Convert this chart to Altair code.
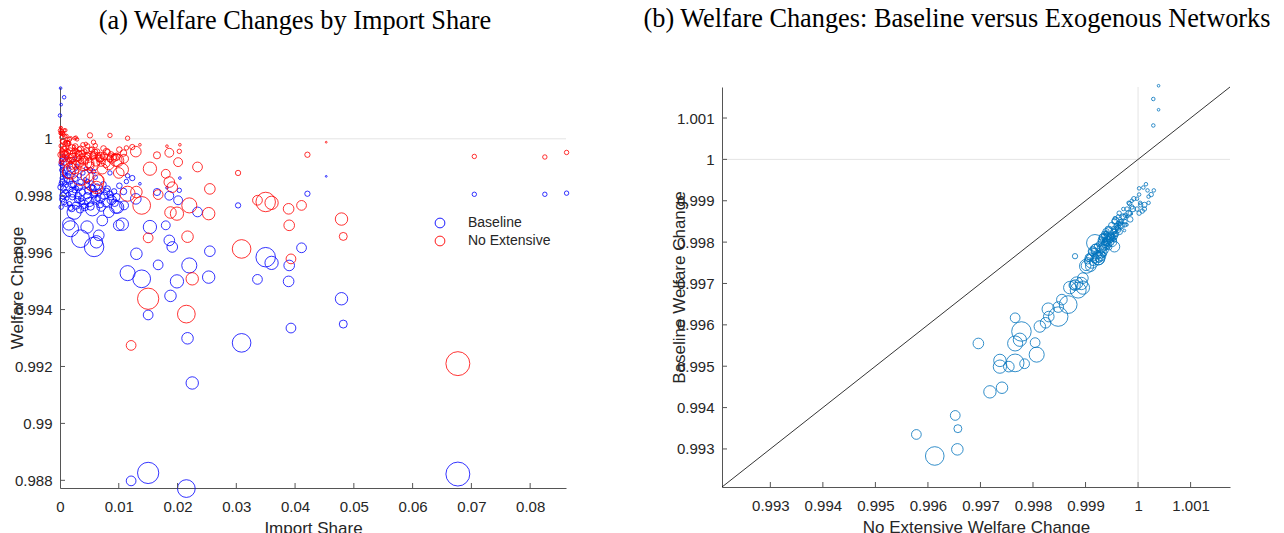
import altair as alt
import pandas as pd

# ---- data ----
share = [
    0.0677, 0.0150, 0.0215, 0.0121, 0.0225, 0.0309, 0.0393, 0.0150, 0.0217, 0.0482,
    0.0479, 0.0188, 0.0123, 0.0136, 0.0204, 0.0182, 0.0203, 0.0165, 0.0129, 0.0201,
    0.0234, 0.0303, 0.0421, 0.0180, 0.0153, 0.0186, 0.0255, 0.0220, 0.0350, 0.0360,
    0.0336, 0.0389, 0.0390, 0.0411, 0.0167, 0.0115, 0.0139, 0.0199, 0.0253, 0.0130,
    0.0453, 0.0705, 0.0825, 0.0862, 0.0115, 0.0085, 0.0051, 0.0186, 0.0098, 0.0191,
    0.0106, 0.0001, 0.0007, 0.0002, 0.0000, 0.0058, 0.0035, 0.0018, 0.0046, 0.0015,
    0.0024, 0.0055, 0.0072, 0.0083, 0.0095, 0.0100, 0.0066, 0.0109, 0.0040, 0.0062,
    0.0002, 0.0004, 0.0006, 0.0003, 0.0008, 0.0001, 0.0010, 0.0005, 0.0012, 0.0007,
    0.0015, 0.0013, 0.0017, 0.0011, 0.0019, 0.0009, 0.0021, 0.0016, 0.0024, 0.0026,
    0.0023, 0.0028, 0.0022, 0.0030, 0.0027, 0.0033, 0.0035, 0.0032, 0.0038, 0.0036,
    0.0041, 0.0043, 0.0045, 0.0048, 0.0046, 0.0050, 0.0053, 0.0056, 0.0058, 0.0061,
    0.0063, 0.0066, 0.0069, 0.0072, 0.0075, 0.0078, 0.0081, 0.0085, 0.0088, 0.0092,
    0.0096, 0.0001, 0.0003, 0.0006, 0.0002, 0.0004, 0.0009, 0.0014, 0.0020, 0.0034,
    0.0039, 0.0052, 0.0060, 0.0070, 0.0029, 0.0018, 0.0044, 0.0057, 0.0011, 0.0025,
    0.0003, 0.0005, 0.0008, 0.0012, 0.0002, 0.0006, 0.0014, 0.0004, 0.0010, 0.0018,
    0.0020, 0.0025, 0.0031, 0.0037, 0.0042, 0.0047, 0.0054, 0.0059, 0.0064, 0.0068,
    0.0074, 0.0079, 0.0087, 0.0093, 0.0101, 0.0108, 0.0113, 0.0009, 0.0016, 0.0027,
]
baseline = [
    0.98822, 0.98826, 0.98771, 0.98798, 0.99142, 0.99283, 0.99335, 0.99381, 0.99299, 0.99349,
    0.99438, 0.99448, 0.99862, 0.99842, 0.99862, 0.99828, 0.99819, 0.99813, 0.99789, 0.99784,
    0.99743, 0.99766, 0.99807, 0.99696, 0.99690, 0.99643, 0.99605, 0.99555, 0.99584, 0.99564,
    0.99506, 0.99499, 0.99555, 0.99617, 0.99557, 0.99528, 0.99508, 0.99499, 0.99514, 0.99596,
    0.99868, 0.99805, 0.99805, 0.99809, 0.99870, 0.99880, 0.99890, 0.99800, 0.99760, 0.99620,
    0.99700, 1.00178, 1.00146, 1.00120, 1.00082, 0.99620, 0.99649, 0.99684, 0.99690, 0.99701,
    0.99742, 0.99754, 0.99713, 0.99742, 0.99760, 0.99696, 0.99661, 0.99766, 0.99798, 0.99638,
    0.99925, 0.99905, 0.99880, 0.99862, 0.99845, 0.99830, 0.99815, 0.99800, 0.99790, 0.99778,
    0.99893, 0.99870, 0.99852, 0.99835, 0.99822, 0.99808, 0.99795, 0.99772, 0.99880, 0.99860,
    0.99840, 0.99826, 0.99810, 0.99786, 0.99765, 0.99870, 0.99848, 0.99830, 0.99812, 0.99790,
    0.99770, 0.99858, 0.99838, 0.99818, 0.99800, 0.99778, 0.99845, 0.99825, 0.99805, 0.99785,
    0.99832, 0.99812, 0.99792, 0.99820, 0.99800, 0.99776, 0.99825, 0.99805, 0.99785, 0.99815,
    0.99795, 0.99910, 0.99890, 0.99940, 0.99760, 0.99850, 0.99870, 0.99900, 0.99755, 0.99752,
    0.99880, 0.99762, 0.99865, 0.99760, 0.99905, 0.99915, 0.99895, 0.99885, 0.99932, 0.99930,
    0.99915, 0.99895, 0.99875, 0.99855, 0.99842, 0.99825, 0.99805, 0.99788, 0.99770, 0.99758,
    0.99840, 0.99820, 0.99800, 0.99780, 0.99760, 0.99850, 0.99830, 0.99810, 0.99790, 0.99770,
    0.99840, 0.99815, 0.99795, 0.99775, 0.99835, 0.99815, 0.99850, 0.99925, 0.99880, 0.99895,
]
no_extensive = [
    0.99210, 0.99438, 0.99384, 0.99274, 0.99508, 0.99613, 0.99578, 0.99652, 0.99656, 0.99657,
    0.99718, 0.99741, 0.99971, 0.99979, 0.99979, 0.99974, 0.99956, 0.99942, 0.99955, 0.99918,
    0.99901, 0.99880, 0.99944, 0.99877, 0.99895, 0.99848, 0.99824, 0.99766, 0.99778, 0.99775,
    0.99784, 0.99754, 0.99696, 0.99766, 0.99804, 0.99807, 0.99766, 0.99737, 0.99737, 0.99813,
    0.99988, 0.99938, 0.99936, 0.99952, 1.00002, 1.00012, 1.00012, 0.99951, 0.99924, 0.99830,
    0.99892, 1.00039, 1.00029, 1.00039, 1.00029, 0.99848, 0.99867, 0.99886, 0.99870, 0.99883,
    0.99902, 0.99912, 0.99895, 0.99910, 0.99925, 0.99880, 0.99855, 0.99930, 0.99918, 0.99829,
    1.00018, 0.99992, 0.99990, 0.99962, 0.99966, 0.99944, 0.99950, 0.99930, 0.99938, 0.99916,
    0.99984, 0.99982, 0.99957, 0.99960, 0.99940, 0.99946, 0.99926, 0.99925, 0.99972, 0.99973,
    0.99950, 0.99955, 0.99934, 0.99933, 0.99909, 0.99964, 0.99965, 0.99944, 0.99948, 0.99922,
    0.99923, 0.99956, 0.99959, 0.99937, 0.99941, 0.99914, 0.99962, 0.99939, 0.99942, 0.99919,
    0.99955, 0.99932, 0.99936, 0.99938, 0.99939, 0.99914, 0.99953, 0.99930, 0.99931, 0.99936,
    0.99937, 1.00020, 1.00005, 1.00015, 0.99918, 0.99955, 0.99985, 0.99988, 0.99904, 0.99914,
    0.99979, 0.99906, 0.99976, 0.99918, 0.99998, 1.00002, 0.99982, 0.99988, 1.00010, 1.00002,
    1.00025, 1.00020, 1.00008, 0.99985, 0.99975, 0.99965, 0.99955, 0.99945, 0.99935, 0.99925,
    0.99968, 0.99958, 0.99948, 0.99938, 0.99926, 0.99975, 0.99962, 0.99952, 0.99942, 0.99930,
    0.99966, 0.99955, 0.99945, 0.99934, 0.99962, 0.99950, 0.99968, 1.00030, 0.99998, 1.00004,
]
weight = [
    72.9, 57.6, 40.0, 12.1, 19.6, 44.1, 12.1, 12.1, 16.9, 8.1,
    19.6, 16.9, 3.6, 0.9, 0.9, 0.9, 2.5, 6.4, 14.4, 10.0,
    12.1, 3.6, 3.6, 10.0, 22.5, 14.4, 14.4, 28.9, 48.4, 22.5,
    12.1, 14.4, 14.4, 12.1, 12.1, 28.9, 40.0, 22.5, 19.6, 16.9,
    0.4, 2.5, 2.5, 2.5, 2.5, 2.5, 3.6, 10.0, 19.6, 14.4,
    19.6, 0.9, 1.6, 0.9, 1.6, 48.4, 40.0, 32.4, 19.6, 19.6,
    25.6, 25.6, 14.4, 14.4, 19.6, 14.4, 14.4, 10.0, 36.1, 19.6,
    1.6, 2.5, 4.0, 1.6, 2.5, 4.0, 2.5, 5.5, 1.6, 4.0,
    2.5, 4.0, 5.5, 1.6, 2.5, 7.0, 4.0, 2.5, 1.6, 4.0,
    5.5, 2.5, 9.0, 5.5, 7.0, 2.5, 4.0, 7.0, 5.5, 4.0,
    9.0, 1.6, 4.0, 7.0, 5.5, 11.0, 2.5, 5.5, 7.0, 9.0,
    4.0, 5.5, 11.0, 2.5, 7.0, 9.0, 4.0, 5.5, 11.0, 4.0,
    7.0, 1.6, 2.5, 1.6, 2.5, 4.0, 2.5, 1.6, 5.5, 7.0,
    2.5, 7.0, 2.5, 9.0, 1.6, 1.6, 1.6, 2.5, 1.6, 1.6,
    2.5, 1.6, 2.5, 4.0, 2.5, 4.0, 2.5, 4.0, 2.5, 4.0,
    5.5, 4.0, 5.5, 4.0, 7.0, 2.5, 4.0, 5.5, 4.0, 7.0,
    4.0, 5.5, 4.0, 7.0, 4.0, 5.5, 2.5, 1.6, 2.5, 1.6,
]
series_names = ["Baseline", "No Extensive"]
x_ticks_a = [0, 0.01, 0.02, 0.03, 0.04, 0.05, 0.06, 0.07, 0.08]
y_ticks_a = [0.988, 0.99, 0.992, 0.994, 0.996, 0.998, 1.0]
ticks_b = [0.993, 0.994, 0.995, 0.996, 0.997, 0.998, 0.999, 1.0, 1.001]

df = pd.DataFrame({"share": share, "Baseline": baseline,
                   "No Extensive": no_extensive, "weight": weight})

# ---- layout / style ----
WA, HA = 506, 401
WB, HB = 508, 400
XA = [0, 0.0861]
YA = [0.98773, 1.00182]
DB = [0.99208, 1.00175]
FONT = "Liberation Sans"
AXC = "#555555"
TXT = "#262626"
TICK = 5
TFS = 26.3

size_scale = alt.Scale(domain=[0, 73], range=[0, 573])


def xaxis(values, fmt, title):
    return alt.Axis(values=values, format=fmt, ticks=False, grid=False,
                    domainColor=AXC, domainWidth=1, labelFont=FONT, labelFontSize=15,
                    labelColor=TXT, labelPadding=11, labelFlush=False, labelOverlap=False,
                    title=title, titleFont=FONT, titleFontSize=17, titleFontWeight="normal",
                    titleColor=TXT, titleY=45, titleBaseline="alphabetic")


def yaxis(values, fmt, title):
    return alt.Axis(values=values, format=fmt, ticks=False, grid=False,
                    domainColor=AXC, domainWidth=1, labelFont=FONT, labelFontSize=15,
                    labelColor=TXT, labelPadding=8, labelFlush=False, labelOverlap=False,
                    title=title, titleFont=FONT, titleFontSize=17, titleFontWeight="normal",
                    titleColor=TXT, titleAngle=-90, titleX=-34, titleBaseline="bottom")


# ---- panel (a) ----
xa = alt.Scale(domain=XA, nice=False, zero=False)
ya = alt.Scale(domain=YA, nice=False, zero=False)
ax_xa = xaxis(x_ticks_a, ".2~f", "Import Share")
ax_ya = yaxis(y_ticks_a, ".3~f", "Welfare Change")

ref_a = alt.Chart(pd.DataFrame({"v": [1.0]})).mark_rule(color="#e4e4e4", strokeWidth=1).encode(
    y=alt.Y("v:Q", scale=ya, axis=ax_ya, title="Welfare Change"))

pts_a = alt.Chart(df).transform_fold(series_names, as_=["series", "value"]).mark_point(
    shape="circle", filled=False, strokeWidth=0.8, opacity=1).encode(
    x=alt.X("share:Q", scale=xa, axis=ax_xa, title="Import Share"),
    y=alt.Y("value:Q", scale=ya, axis=ax_ya, title="Welfare Change"),
    color=alt.Color("series:N", scale=alt.Scale(domain=series_names, range=["#0000ff", "#ff0000"]),
                    legend=alt.Legend(title=None, orient="none", legendX=373, legendY=129,
                                      symbolType="circle", symbolSize=95, symbolStrokeWidth=0.9,
                                      labelFont=FONT, labelFontSize=14, labelColor=TXT,
                                      labelOffset=21, rowPadding=4, padding=0)),
    size=alt.Size("weight:Q", scale=size_scale, legend=None),
    order=alt.Order("series:N"))

tx_a = alt.Chart(pd.DataFrame({"t": x_ticks_a[1:]})).mark_rule(color=AXC, strokeWidth=1).encode(
    x=alt.X("t:Q", scale=xa, axis=ax_xa, title="Import Share"),
    y=alt.value(HA), y2=alt.value(HA - TICK))
ty_a = alt.Chart(pd.DataFrame({"t": y_ticks_a})).mark_rule(color=AXC, strokeWidth=1).encode(
    y=alt.Y("t:Q", scale=ya, axis=ax_ya, title="Welfare Change"),
    x=alt.value(0), x2=alt.value(TICK))

panel_a = alt.layer(ref_a, pts_a, tx_a, ty_a).properties(
    width=WA, height=HA,
    title=alt.Title("(a) Welfare Changes by Import Share", font="Liberation Serif", fontSize=TFS,
                    fontWeight="normal", color="black", anchor="middle", dx=-18, offset=30,
                    baseline="alphabetic"))

# ---- panel (b) ----
sb = alt.Scale(domain=DB, nice=False, zero=False)
TXB = "No Extensive Welfare Change"
TYB = "Baseline Welfare Change"
ax_xb = xaxis(ticks_b, ".3~f", TXB)
ax_yb = yaxis(ticks_b, ".3~f", TYB)

vline_b = alt.Chart(pd.DataFrame({"v": [1.0]})).mark_rule(color="#e4e4e4", strokeWidth=1).encode(
    x=alt.X("v:Q", scale=sb, axis=ax_xb, title=TXB))
hline_b = alt.Chart(pd.DataFrame({"v": [1.0]})).mark_rule(color="#e4e4e4", strokeWidth=1).encode(
    y=alt.Y("v:Q", scale=sb, axis=ax_yb, title=TYB))
diag_b = alt.Chart(pd.DataFrame({"v": DB})).mark_line(color="black", strokeWidth=0.8).encode(
    x=alt.X("v:Q", scale=sb, axis=ax_xb, title=TXB),
    y=alt.Y("v:Q", scale=sb, axis=ax_yb, title=TYB))

pts_b = alt.Chart(df).transform_filter(
    "datum['Baseline'] >= 0.99208 && datum['No Extensive'] >= 0.99208").mark_point(
    shape="circle", filled=False, strokeWidth=0.8, color="#0072BD", opacity=1).encode(
    x=alt.X(field="No Extensive", type="quantitative", scale=sb, axis=ax_xb, title=TXB),
    y=alt.Y(field="Baseline", type="quantitative", scale=sb, axis=ax_yb, title=TYB),
    size=alt.Size("weight:Q", scale=size_scale, legend=None))

tx_b = alt.Chart(pd.DataFrame({"t": ticks_b})).mark_rule(color=AXC, strokeWidth=1).encode(
    x=alt.X("t:Q", scale=sb, axis=ax_xb, title=TXB), y=alt.value(HB), y2=alt.value(HB - TICK))
ty_b = alt.Chart(pd.DataFrame({"t": ticks_b})).mark_rule(color=AXC, strokeWidth=1).encode(
    y=alt.Y("t:Q", scale=sb, axis=ax_yb, title=TYB), x=alt.value(0), x2=alt.value(TICK))

panel_b = alt.layer(vline_b, hline_b, pts_b, diag_b, tx_b, ty_b).properties(
    width=WB, height=HB,
    title=alt.Title("(b) Welfare Changes: Baseline versus Exogenous Networks",
                    font="Liberation Serif", fontSize=TFS, fontWeight="normal", color="black",
                    anchor="middle", dx=-19, offset=30, baseline="alphabetic"))

chart = alt.hconcat(panel_a, panel_b, spacing=72).resolve_scale(
    x="independent", y="independent", size="independent", color="independent").properties(
    padding={"left": 0, "top": -3, "right": 0, "bottom": 0}).configure_view(stroke=None)

chart.save("out.html", embed_options={"renderer": "svg", "actions": False})
